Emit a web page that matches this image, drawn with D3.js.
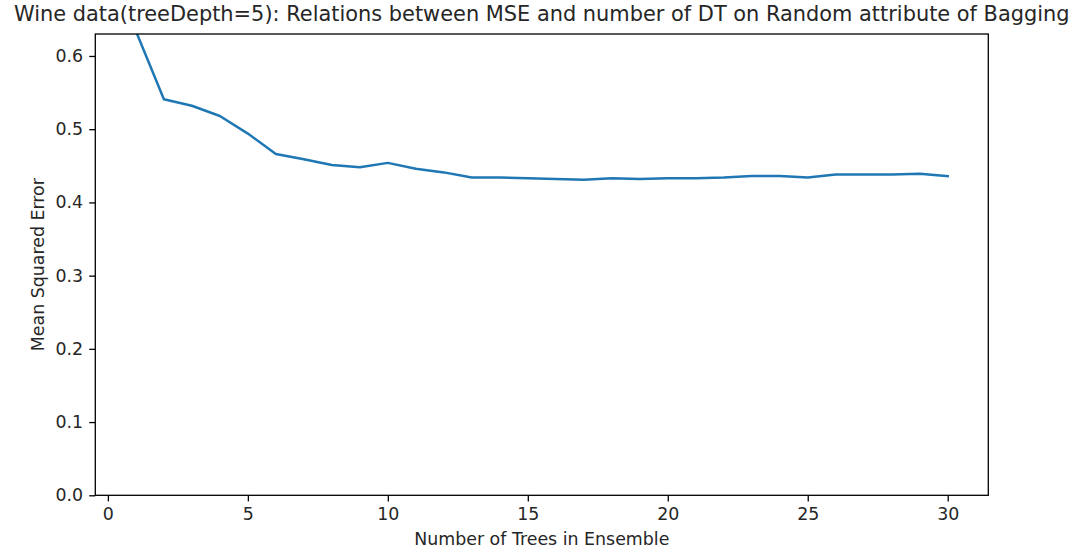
<!DOCTYPE html>
<html>
<head>
<meta charset="utf-8">
<script src="https://cdn.jsdelivr.net/npm/d3@7"></script>
<style>
  body { margin: 0; background: #fff; }
  text { font-family: "DejaVu Sans", sans-serif; fill: #262626; }
</style>
</head>
<body>
<div id="chart"></div>
<script>
// Data
var numTrees = [1, 2, 3, 4, 5, 6, 7, 8, 9, 10, 11, 12, 13, 14, 15,
                16, 17, 18, 19, 20, 21, 22, 23, 24, 25, 26, 27, 28, 29, 30];
var mse = [0.634, 0.541, 0.532, 0.518, 0.494, 0.466, 0.459, 0.451, 0.448, 0.454,
           0.446, 0.441, 0.434, 0.434, 0.433, 0.432, 0.431, 0.433, 0.432, 0.433,
           0.433, 0.434, 0.436, 0.436, 0.434, 0.438, 0.438, 0.438, 0.439, 0.436];
var xTicks = [0, 5, 10, 15, 20, 25, 30];
var yTicks = [0.0, 0.1, 0.2, 0.3, 0.4, 0.5, 0.6];

var W = 1077, H = 553;
var margin = {top: 34, right: 1077 - 988.3, bottom: 553 - 495.3, left: 95.3},
    width = W - margin.left - margin.right,
    height = H - margin.top - margin.bottom;

var svg = d3.select("#chart").append("svg")
    .attr("width", W)
    .attr("height", H);

var g = svg.append("g")
    .attr("transform", "translate(" + margin.left + "," + margin.top + ")");

var x = d3.scaleLinear().domain([-0.45, 31.45]).range([0, width]);
var y = d3.scaleLinear().domain([0, 0.630]).range([height, 0]);

g.append("clipPath").attr("id", "clip")
  .append("rect").attr("width", width).attr("height", height);

// Line
var line = d3.line()
    .x(function(d, i) { return x(numTrees[i]); })
    .y(function(d) { return y(d); });

g.append("path")
    .datum(mse)
    .attr("clip-path", "url(#clip)")
    .attr("fill", "none")
    .attr("stroke", "#1f77b4")
    .attr("stroke-width", 2.5)
    .attr("stroke-linejoin", "round")
    .attr("stroke-linecap", "square")
    .attr("d", line);

// Axes
var xAxis = g.append("g")
    .attr("transform", "translate(0," + height + ")")
    .call(d3.axisBottom(x).tickValues(xTicks).tickFormat(d3.format("d"))
      .tickSize(6.1).tickPadding(6.1));

var yAxis = g.append("g")
    .call(d3.axisLeft(y).tickValues(yTicks).tickFormat(d3.format(".1f"))
      .tickSize(6.1).tickPadding(6.1));

[xAxis, yAxis].forEach(function(a) {
  a.select(".domain").remove();
  a.selectAll(".tick line").attr("stroke", "#000").attr("stroke-width", 1.3);
  a.selectAll(".tick text").attr("font-size", "17.4px").style("fill", "#262626")
    .attr("font-family", "DejaVu Sans");
});

// Frame
g.append("rect")
    .attr("width", width)
    .attr("height", height)
    .attr("fill", "none")
    .attr("stroke", "#000")
    .attr("stroke-width", 1.3);

// Title and labels
svg.append("text")
    .attr("x", margin.left + width / 2)
    .attr("y", 21)
    .attr("text-anchor", "middle")
    .attr("font-size", "20.9px")
    .text("Wine data(treeDepth=5): Relations between MSE and number of DT on Random attribute of Bagging");

svg.append("text")
    .attr("x", margin.left + width / 2)
    .attr("y", 545)
    .attr("text-anchor", "middle")
    .attr("font-size", "17.4px")
    .text("Number of Trees in Ensemble");

svg.append("text")
    .attr("transform", "translate(44," + (margin.top + height / 2) + ") rotate(-90)")
    .attr("text-anchor", "middle")
    .attr("font-size", "17.4px")
    .text("Mean Squared Error");
</script>
</body>
</html>
